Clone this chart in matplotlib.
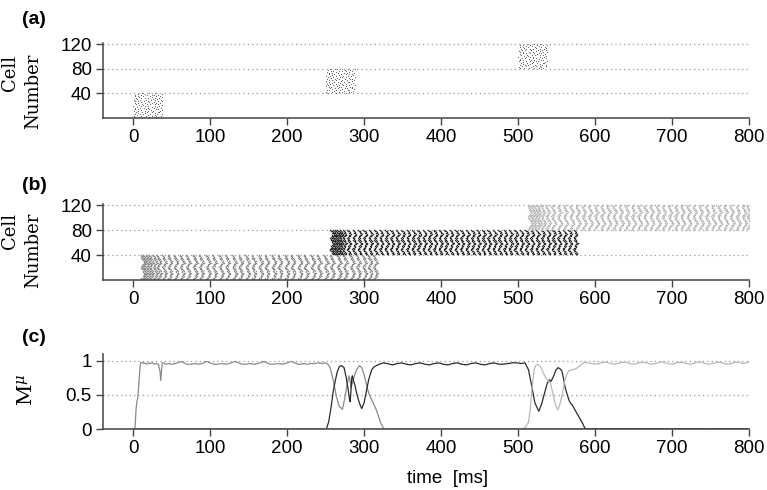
import numpy as np
import matplotlib.pyplot as plt

plt.rcParams['font.family'] = ['Liberation Sans', 'DejaVu Sans']
plt.rcParams['mathtext.fontset'] = 'dejavuserif'

# ---------------- data ----------------
time_ticks = [0, 100, 200, 300, 400, 500, 600, 700, 800]
cell_ticks = [40, 80, 120]
m_ticks = [0, 0.5, 1]
m_tick_labels = ['0', '0.5', '1']

# (a) short cue bursts: onset of each burst and spike offsets (ms) for the 40 cells of a pattern
onsets_a = [0, 250, 500]
offsets_a = [
    [3, 14, 27], [8, 21, 33], [1, 17, 30], [11, 24, 36], [5, 19, 29],
    [2, 13, 31], [9, 22, 37], [6, 16, 28], [12, 25, 34], [4, 18, 32],
    [7, 20, 35], [1, 15, 26], [10, 23, 38], [3, 17, 30], [6, 21, 33],
    [2, 14, 27], [9, 19, 36], [5, 24, 31], [11, 16, 29], [0, 20, 34],
    [8, 13, 37], [4, 22, 28], [12, 18, 32], [2, 25, 35], [7, 15, 30],
    [10, 21, 27], [3, 19, 38], [6, 14, 33], [1, 23, 29], [9, 17, 36],
    [5, 26, 31], [11, 20, 34], [4, 16, 28], [8, 24, 37], [2, 13, 30],
    [7, 22, 35], [10, 18, 27], [3, 25, 32], [6, 15, 38], [12, 21, 29],
]

# (b) population waves of each pattern (ms) and lag of each cell inside a wave (ms)
waves_b1 = [10, 13, 17, 21, 26, 31, 38, 45, 53, 61, 69, 78, 86, 95, 103, 112, 120,
            129, 137, 146, 154, 163, 171, 180, 188, 197, 205, 214, 222, 231,
            239, 248, 256, 265, 273, 282, 290, 298, 305, 312]
lags_b1 = [0.4, 1.5, 0.9, 2.6, 3.8, 2.9, 4.7, 3.6, 5.4, 4.1, 6.0, 4.8, 3.2, 5.1,
           2.4, 3.7, 1.6, 2.8, 0.7, 1.9, 0.2, 1.2, 2.9, 1.8, 3.9, 2.7, 4.6, 5.9,
           3.8, 5.2, 4.3, 2.5, 3.6, 1.4, 2.7, 0.8, 1.9, 0.3, 1.1, 0.0]

waves_b2 = [256, 259, 262, 265, 268, 272, 278, 285, 292, 299, 306, 313, 320, 327,
            334, 341, 348, 355, 362, 369, 376, 383, 390, 397, 404, 411, 418, 425,
            432, 439, 446, 453, 460, 467, 474, 481, 488, 495, 502, 509, 516, 523,
            530, 537, 544, 551, 558, 565, 572]
lags_b2 = [4.6, 3.1, 4.0, 2.2, 3.4, 1.3, 2.5, 0.4, 1.6, 0.0, 1.9, 0.9, 2.8, 1.7,
           3.7, 2.6, 4.9, 3.5, 5.3, 4.2, 2.9, 3.8, 1.8, 2.7, 0.6, 1.5, 0.2, 2.3,
           1.1, 3.3, 2.0, 4.4, 3.0, 5.1, 3.9, 2.6, 3.4, 1.5, 2.2, 0.3]

waves_b3 = [513, 517, 521, 525, 530, 536, 543, 551, 559, 567, 575, 583, 591, 599,
            607, 615, 623, 631, 639, 647, 655, 663, 671, 679, 687, 695, 703, 711,
            719, 727, 735, 743, 751, 759, 767, 775, 783, 791, 797]
lags_b3 = [0.3, 1.6, 0.8, 2.5, 1.7, 3.6, 2.6, 4.8, 3.5, 5.7, 4.4, 6.2, 4.9, 3.3,
           5.0, 2.6, 3.8, 1.5, 2.4, 0.6, 1.8, 0.1, 2.2, 1.3, 3.4, 2.3, 4.5, 3.3,
           5.6, 4.1, 2.8, 3.9, 1.9, 2.9, 0.9, 1.7, 0.4, 2.1, 1.0, 3.0]

# (c) overlap M^mu of the network state with each pattern
m1_t = [0, 2.5, 4, 5, 6, 7.5, 9, 10, 12, 14, 16, 18, 20, 22, 25, 28, 30, 33, 35, 36,
        37, 38, 40, 43, 46, 50, 55, 60, 63, 66, 70, 75, 80, 85, 90, 95, 98, 102,
        106, 110, 115, 120, 125, 130, 133, 137, 142, 147, 152, 157, 162, 167, 170,
        174, 178, 183, 188, 193, 198, 203, 206, 210, 214, 218, 222, 226, 230, 235,
        240, 245, 250, 253, 256, 260, 264, 268, 272, 275, 278, 280.5, 282, 283,
        285, 288, 291, 294, 297, 300, 303, 306, 309, 312, 316, 319, 322, 325, 327,
        800]
m1_v = [0, 0, 0.3, 0.4, 0.45, 0.65, 0.9, 0.97, 0.98, 0.96, 0.97, 0.95, 0.97, 0.96,
        0.97, 0.95, 0.96, 0.95, 0.85, 0.71, 0.85, 0.97, 0.97, 0.95, 0.96, 0.95,
        0.96, 0.98, 0.99, 0.97, 0.95, 0.95, 0.96, 0.95, 0.96, 0.99, 0.98, 0.96,
        0.95, 0.95, 0.96, 0.95, 0.96, 0.98, 0.99, 0.97, 0.95, 0.95, 0.96, 0.95,
        0.96, 0.98, 0.99, 0.97, 0.95, 0.95, 0.96, 0.95, 0.96, 0.98, 0.99, 0.97,
        0.95, 0.95, 0.96, 0.95, 0.96, 0.96, 0.97, 0.96, 0.97, 0.95, 0.9, 0.72,
        0.48, 0.33, 0.29, 0.45, 0.65, 0.78, 0.7, 0.6, 0.68, 0.8, 0.88, 0.93, 0.9,
        0.8, 0.66, 0.53, 0.45, 0.38, 0.28, 0.18, 0.08, 0.02, 0, 0]

m2_t = [0, 251, 254, 257, 260, 262, 265, 268, 271, 274, 277, 279.5, 281, 282, 283,
        284, 285, 286, 288, 291, 294, 297, 300, 303, 306, 310, 313, 316, 320, 325,
        330, 337, 343, 349, 355, 361, 367, 373, 379, 385, 391, 397, 403, 409, 415,
        421, 427, 433, 439, 445, 451, 457, 463, 469, 475, 481, 487, 493, 499, 504,
        509, 513.6, 518, 522, 527, 531, 535, 538, 541, 543, 546, 549, 552, 555,
        557, 559, 561, 564, 566, 568, 570, 573, 575, 577, 579, 582, 584, 586, 588,
        800]
m2_v = [0, 0, 0.1, 0.3, 0.55, 0.67, 0.83, 0.92, 0.93, 0.9, 0.75, 0.57, 0.45, 0.4,
        0.55, 0.75, 0.78, 0.72, 0.65, 0.5, 0.38, 0.3, 0.38, 0.55, 0.72, 0.87,
        0.91, 0.93, 0.95, 0.97, 0.96, 0.94, 0.96, 0.97, 0.95, 0.94, 0.96, 0.97,
        0.95, 0.94, 0.96, 0.97, 0.95, 0.94, 0.96, 0.97, 0.95, 0.94, 0.96, 0.97,
        0.95, 0.94, 0.96, 0.97, 0.95, 0.95, 0.96, 0.97, 0.97, 0.96, 0.97, 0.87,
        0.62, 0.38, 0.26, 0.38, 0.55, 0.67, 0.72, 0.7, 0.77, 0.86, 0.9, 0.88,
        0.85, 0.75, 0.62, 0.5, 0.43, 0.38, 0.36, 0.3, 0.26, 0.22, 0.18, 0.12,
        0.08, 0.03, 0, 0]

m3_t = [0, 505, 510, 513.6, 516, 518, 520, 521, 523, 525.5, 528, 530, 533, 536,
        538, 540, 542, 544, 546, 549, 551.5, 554, 557, 559, 561, 564, 566, 570,
        575, 579, 583, 586, 590, 596, 602, 608, 613, 618, 624, 630, 635, 640, 645,
        651, 657, 662, 667, 673, 679, 684, 689, 694, 700, 706, 711, 716, 722, 728,
        733, 738, 743, 749, 755, 760, 765, 771, 777, 782, 787, 792, 797, 800]
m3_v = [0, 0, 0.03, 0.1, 0.3, 0.57, 0.78, 0.87, 0.93, 0.95, 0.93, 0.9, 0.82, 0.75,
        0.72, 0.7, 0.68, 0.58, 0.48, 0.35, 0.28, 0.35, 0.48, 0.6, 0.72, 0.82,
        0.85, 0.87, 0.88, 0.92, 0.95, 0.98, 0.97, 0.96, 0.95, 0.97, 0.98, 0.97,
        0.95, 0.96, 0.98, 0.98, 0.96, 0.95, 0.97, 0.98, 0.97, 0.95, 0.96, 0.98,
        0.98, 0.96, 0.95, 0.97, 0.98, 0.97, 0.95, 0.96, 0.98, 0.98, 0.96, 0.95,
        0.97, 0.98, 0.97, 0.95, 0.96, 0.98, 0.98, 0.96, 0.97, 0.98]

colors = ['#8a8a8a', '#2c2c2c', '#b8b8b8']

# ---------------- figure ----------------
fig = plt.figure(figsize=(7.67, 4.90), dpi=100)
W, H = 767, 490
left, width = 103 / W, 646 / W


def px_axes(top, bottom):
    return fig.add_axes([left, 1 - bottom / H, width, (bottom - top) / H])


ax_a = px_axes(43, 118)
ax_b = px_axes(204, 280)
ax_c = px_axes(354, 429)


def style(ax):
    for s in ['top', 'right']:
        ax.spines[s].set_visible(False)
    for s in ['left', 'bottom']:
        ax.spines[s].set_color('#444444')
        ax.spines[s].set_linewidth(1.1)
    ax.set_xlim(-39, 800)
    ax.set_xticks(time_ticks)
    ax.tick_params(direction='out', length=5, width=1, color='#444444',
                   labelsize=13.5, pad=3)
    ax.yaxis.grid(True, linestyle=(0, (1, 2.5)), color='#999999', linewidth=0.9)
    ax.set_axisbelow(True)


# (a)
for k, t0 in enumerate(onsets_a):
    tt = t0 + np.array(offsets_a)
    cc = np.repeat(np.arange(40) + 40 * k + 1, 3).reshape(40, 3)
    ax_a.plot(tt.ravel(), cc.ravel(), ls='none', marker='s', ms=0.75, mew=0,
              color='#6a6a6a')
style(ax_a)
ax_a.set_ylim(0, 122)
ax_a.set_yticks(cell_ticks)

# (b)
for k, (wv, lg) in enumerate([(waves_b1, lags_b1), (waves_b2, lags_b2),
                              (waves_b3, lags_b3)]):
    tt = np.add.outer(np.array(wv), np.array(lg))
    cc = np.tile(np.arange(40) + 40 * k + 1, (len(wv), 1))
    ax_b.plot(tt.ravel(), cc.ravel(), ls='none', marker='s', ms=0.95, mew=0,
              color=colors[k])
style(ax_b)
ax_b.set_ylim(0, 122)
ax_b.set_yticks(cell_ticks)

# (c)
ax_c.plot(m1_t, m1_v, color=colors[0], lw=0.9)
ax_c.plot(m2_t, m2_v, color=colors[1], lw=0.9)
ax_c.plot(m3_t, m3_v, color=colors[2], lw=0.9)
style(ax_c)
ax_c.set_ylim(0, 1.1)
ax_c.set_yticks(m_ticks)
ax_c.set_yticklabels(m_tick_labels)

# labels
for lab, y in [('(a)', 19), ('(b)', 185), ('(c)', 337)]:
    fig.text(22 / W, 1 - y / H, lab, weight='bold', fontsize=14,
             ha='left', va='center')

for yc1, yc2 in [(73, 91), (231, 250)]:
    fig.text(10 / W, 1 - yc1 / H, 'Cell', family='DejaVu Serif', fontsize=13,
             rotation=90, ha='center', va='center')
    fig.text(33 / W, 1 - yc2 / H, 'Number', family='DejaVu Serif', fontsize=13,
             rotation=90, ha='center', va='center')
fig.text(27 / W, 1 - 390 / H, r'$\mathrm{M}^{\mu}$', fontsize=15,
         rotation=90, ha='center', va='center')

fig.text(448 / W, 1 - 478 / H, 'time  [ms]', fontsize=13.5, ha='center',
         va='center')

fig.savefig('out.png', dpi=100)
